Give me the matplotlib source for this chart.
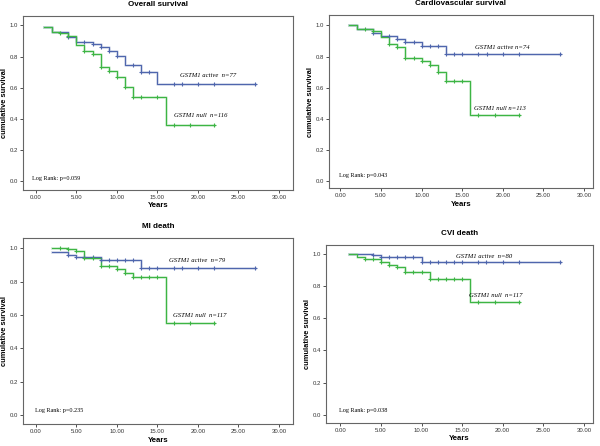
import matplotlib
matplotlib.use('Agg')
import matplotlib.pyplot as plt
import numpy as np

# ---- data ----
# Overall survival
oa_t = [1, 2, 4, 5, 7, 8, 9, 10, 11, 13, 15, 27]
oa_s = [0.99, 0.96, 0.925, 0.895, 0.878, 0.858, 0.835, 0.805, 0.743, 0.70, 0.622, 0.622]
oa_c = [4, 6, 7, 8, 9, 10, 12, 13, 14, 17, 18, 20, 22, 27]
on_t = [1, 2, 3, 4, 5, 6, 7, 8, 9, 10, 11, 12, 16, 22]
on_s = [0.99, 0.96, 0.951, 0.932, 0.876, 0.833, 0.814, 0.734, 0.705, 0.668, 0.606, 0.537, 0.358, 0.358]
on_c = [3, 4, 6, 7, 8, 9, 10, 11, 12, 13, 15, 17, 19, 22]

# Cardiovascular survival
ca_t = [1, 2, 4, 5, 7, 8, 10, 13, 27]
ca_s = [1.0, 0.976, 0.949, 0.934, 0.914, 0.891, 0.865, 0.814, 0.814]
ca_c = [4, 6, 7, 8, 9, 10, 11, 12, 13, 14, 15, 17, 18, 20, 22, 27]
cn_t = [1, 2, 4, 5, 6, 7, 8, 10, 11, 12, 13, 16, 22]
cn_s = [1.0, 0.976, 0.966, 0.925, 0.884, 0.859, 0.792, 0.771, 0.749, 0.698, 0.642, 0.428, 0.428]
cn_c = [3, 4, 6, 7, 8, 9, 10, 11, 12, 13, 14, 15, 17, 19, 22]

# MI death
ma_t = [2, 4, 5, 8, 13, 27]
ma_s = [0.976, 0.96, 0.95, 0.93, 0.882, 0.882]
ma_c = [4, 5, 6, 7, 8, 9, 10, 11, 12, 13, 14, 15, 17, 18, 20, 22, 27]
mn_t = [2, 4, 5, 6, 8, 10, 11, 12, 16, 22]
mn_s = [1.0, 0.994, 0.982, 0.942, 0.896, 0.876, 0.852, 0.828, 0.551, 0.551]
mn_c = [3, 4, 5, 6, 7, 8, 9, 10, 11, 12, 13, 14, 15, 17, 19, 22]

# CVI death
va_t = [1, 4, 5, 10, 27]
va_s = [1.0, 0.99, 0.977, 0.946, 0.946]
va_c = [4, 5, 6, 7, 8, 9, 10, 11, 12, 13, 14, 15, 17, 18, 20, 22, 27]
vn_t = [1, 2, 3, 5, 6, 7, 8, 11, 16, 22]
vn_s = [1.0, 0.981, 0.967, 0.948, 0.928, 0.917, 0.886, 0.841, 0.70, 0.70]
vn_c = [3, 4, 5, 6, 7, 8, 9, 10, 11, 12, 13, 14, 15, 17, 19, 22]

titles = ['Overall survival', 'Cardiovascular survival', 'MI death', 'CVI death']
active_lab = ['GSTM1 active  n=77', 'GSTM1 active n=74', 'GSTM1 active  n=79', 'GSTM1 active  n=80']
null_lab = ['GSTM1 null  n=116', 'GSTM1 null n=113', 'GSTM1 null  n=117', 'GSTM1 null  n=117']
pvals = ['Log Rank: p=0.059', 'Log Rank: p=0.043', 'Log Rank: p=0.235', 'Log Rank: p=0.038']

BLUE = '#4f66ad'
GREEN = '#3db544'

panels = [
    dict(pos=[0.038, 0.574, 0.45, 0.390], xlim=(-1.6, 31.7), ylim=(-0.058, 1.06),
         act=(oa_t, oa_s, oa_c), nul=(on_t, on_s, on_c),
         alab=(17.8, 0.675), nlab=(17.0, 0.42), plab=(-0.5, 0.013)),
    dict(pos=[0.548, 0.578, 0.44, 0.388], xlim=(-1.44, 31.1), ylim=(-0.045, 1.066),
         act=(ca_t, ca_s, ca_c), nul=(cn_t, cn_s, cn_c),
         alab=(16.6, 0.857), nlab=(16.4, 0.467), plab=(-0.2, 0.034)),
    dict(pos=[0.038, 0.049, 0.45, 0.417], xlim=(-1.6, 31.7), ylim=(-0.056, 1.062),
         act=(ma_t, ma_s, ma_c), nul=(mn_t, mn_s, mn_c),
         alab=(16.45, 0.926), nlab=(16.9, 0.595), plab=(-0.1, 0.026)),
    dict(pos=[0.543, 0.052, 0.445, 0.399], xlim=(-1.8, 31.1), ylim=(-0.05, 1.054),
         act=(va_t, va_s, va_c), nul=(vn_t, vn_s, vn_c),
         alab=(14.3, 0.981), nlab=(15.9, 0.74), plab=(-0.2, 0.027)),
]


def draw_curve(ax, t, s, c, color):
    t = np.asarray(t, float)
    s = np.asarray(s, float)
    ax.step(t, s, where='post', color=color, lw=2.0, alpha=0.22, zorder=2)
    ax.step(t, s, where='post', color=color, lw=0.8, zorder=3)
    c = np.asarray(c, float)
    idx = np.searchsorted(t, c, side='right') - 1
    ax.plot(c, s[idx], '+', color=color, ms=3.2, mew=0.8, zorder=4)


fig = plt.figure(figsize=(6, 4.46), dpi=100)
serif = 'Liberation Serif'
sans = 'Liberation Sans'

for i, p in enumerate(panels):
    ax = fig.add_axes(p['pos'])
    draw_curve(ax, *p['act'], BLUE)
    draw_curve(ax, *p['nul'], GREEN)
    ax.set_xlim(*p['xlim'])
    ax.set_ylim(*p['ylim'])
    ax.set_xticks(np.arange(0, 31, 5))
    ax.set_xticklabels(['%.2f' % v for v in np.arange(0, 31, 5)], fontsize=4.3, family=sans)
    ax.set_yticks(np.arange(0, 1.01, 0.2))
    ax.set_yticklabels(['%.1f' % v for v in np.arange(0, 1.01, 0.2)], fontsize=4.3, family=sans)
    ax.tick_params(length=2.2, width=0.6, pad=1.2, colors='#333333')
    for sp in ax.spines.values():
        sp.set_color('#666666')
        sp.set_linewidth(0.8)
    ax.set_title(titles[i], fontsize=5.8, fontweight='bold', family=sans, pad=7)
    ax.set_xlabel('Years', fontsize=5.6, fontweight='bold', family=sans, labelpad=2)
    ax.set_ylabel('cumulative survival', fontsize=5.4, fontweight='bold', family=sans, labelpad=1.5)
    ax.text(*p['alab'], active_lab[i], fontsize=4.8, style='italic', family=serif, va='center')
    ax.text(*p['nlab'], null_lab[i], fontsize=4.8, style='italic', family=serif, va='center')
    ax.text(*p['plab'], pvals[i], fontsize=4.4, family=serif, va='center')

fig.savefig('out.png', dpi=100)
